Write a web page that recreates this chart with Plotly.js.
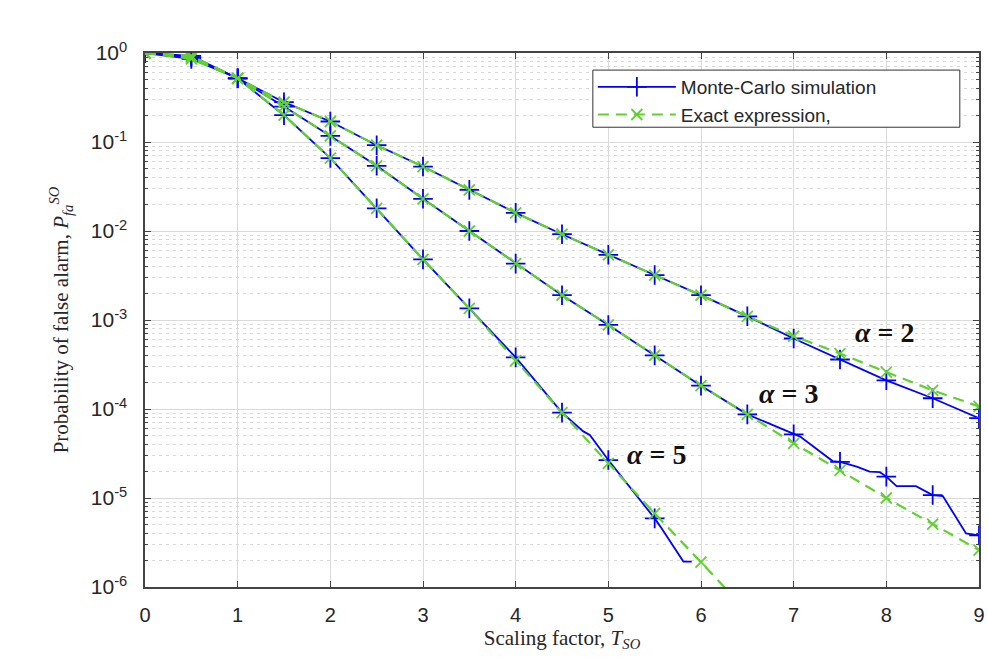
<!DOCTYPE html>
<html>
<head>
<meta charset="utf-8">
<script src="https://cdn.plot.ly/plotly-3.0.1.min.js"></script>
<style>html,body{margin:0;padding:0;background:#fff;}#chart{width:988px;height:665px;}</style>
</head>
<body>
<div id="chart"></div>
<script>
// ---- data ----
const xGrid = [0,0.5,1,1.5,2,2.5,3,3.5,4,4.5,5,5.5,6,6.5,7,7.5,8,8.5,9];

// Exact expression (green dashed), sampled at 0.5 steps
const exact2 = [1,0.93,0.52,0.28,0.17,0.092,0.053,0.029,0.016,0.0092,0.0054,0.0032,0.0019,0.0011,0.00066,0.00042,0.00026,0.000162,0.000107];
const exact3 = [1,0.90,0.52,0.25,0.117,0.054,0.023,0.0100,0.0043,0.0019,0.00088,0.00040,0.000183,0.000087,0.0000412,0.0000204,0.0000100,0.0000051,0.0000026];
const exact5X = [0,0.5,1,1.5,2,2.5,3,3.5,4,4.5,5,5.5,6,6.5];
const exact5 = [1,0.86,0.52,0.20,0.066,0.018,0.0048,0.00135,0.00035,0.000091,0.0000245,0.0000067,0.0000019,0.00000053];

// Monte-Carlo simulation (blue solid); markers sit on the 0.5 steps
const mc2X = [0,0.5,1,1.5,2,2.5,3,3.5,4,4.5,5,5.5,6,6.5,7,7.5,8,8.5,9];
const mc2 = [1,0.93,0.52,0.28,0.17,0.092,0.053,0.029,0.016,0.0092,0.0054,0.0032,0.0019,0.0011,0.00062,0.00036,0.00021,0.000132,0.000079];
const mc3X = [0,0.5,1,1.5,2,2.5,3,3.5,4,4.5,5,5.5,6,6.5,7,7.07,7.42,7.5,7.68,7.82,7.93,8,8.11,8.32,8.5,8.61,8.86,9];
const mc3 = [1,0.90,0.52,0.25,0.117,0.054,0.023,0.0100,0.0043,0.0019,0.00088,0.00040,0.000183,0.000087,0.000052,0.000049,0.000026,0.0000255,0.0000225,0.0000198,0.0000195,0.0000174,0.0000136,0.0000136,0.0000108,0.0000105,0.0000040,0.0000038];
const mc5X = [0,0.5,1,1.5,2,2.5,3,3.5,4,4.5,4.73,4.8,5,5.5,5.56,5.81,5.9];
const mc5 = [1,0.86,0.52,0.20,0.066,0.018,0.0048,0.00135,0.00038,0.000091,0.000056,0.000051,0.0000267,0.0000059,0.0000048,0.00000193,0.00000193];

const yTickVals = [1,0.1,0.01,0.001,0.0001,0.00001,0.000001];
const yTickText = ['10<sup>0</sup>','10<sup>-1</sup>','10<sup>-2</sup>','10<sup>-3</sup>','10<sup>-4</sup>','10<sup>-5</sup>','10<sup>-6</sup>'];
const xTickVals = [0,1,2,3,4,5,6,7,8,9];

const seriesNames = ['Monte-Carlo simulation','Exact expression,'];
const labelText = ['<b><i>α</i> = 2</b>','<b><i>α</i> = 3</b>','<b><i>α</i> = 5</b>'];
const labelX = [7.98, 6.94, 5.52];
const labelY = [0.00073, 0.00015, 0.000031];

// ---- styles ----
const BLUE = '#0000ff';
const GREEN = '#5fd22e';

function onGrid(xs, ys) {
  const ox = [], oy = [];
  xs.forEach((x, i) => { if (Math.abs(x * 2 - Math.round(x * 2)) < 1e-9) { ox.push(x); oy.push(ys[i]); } });
  return [ox, oy];
}

const traces = [];
[[mc2X, mc2], [mc3X, mc3], [mc5X, mc5]].forEach(([xs, ys]) => {
  traces.push({x: xs, y: ys, type: 'scatter', mode: 'lines', showlegend: false, hoverinfo: 'skip',
    line: {color: BLUE, width: 1.8}});
  const [mx, my] = onGrid(xs, ys);
  traces.push({x: mx, y: my, type: 'scatter', mode: 'markers', showlegend: false, hoverinfo: 'skip',
    marker: {symbol: 'cross-thin-open', size: 14, color: BLUE, line: {color: BLUE, width: 1.8}}});
});
[[xGrid, exact2], [xGrid, exact3], [exact5X, exact5]].forEach(([xs, ys]) => {
  traces.push({x: xs, y: ys, type: 'scatter', mode: 'lines+markers', showlegend: false, hoverinfo: 'skip',
    line: {color: GREEN, width: 2.2, dash: '11px,7px'},
    marker: {symbol: 'x-thin-open', size: 11, color: GREEN, line: {color: GREEN, width: 1.8}}});
});
// legend entries
traces.push({x: [null], y: [null], type: 'scatter', mode: 'lines+markers', name: seriesNames[0],
  line: {color: BLUE, width: 1.8},
  marker: {symbol: 'cross-thin-open', size: 14, color: BLUE, line: {color: BLUE, width: 1.8}}});
traces.push({x: [null], y: [null], type: 'scatter', mode: 'lines+markers', name: seriesNames[1],
  line: {color: GREEN, width: 2.2, dash: '11px,7px'},
  marker: {symbol: 'x-thin-open', size: 11, color: GREEN, line: {color: GREEN, width: 1.8}}});

const AX = '#444444';
const TXT = '#262626';

const layout = {
  width: 988, height: 665,
  paper_bgcolor: '#ffffff', plot_bgcolor: '#ffffff',
  margin: {l: 145, r: 9, t: 53, b: 78},
  showlegend: true,
  legend: {
    x: 0.537, y: 0.972, xanchor: 'left', yanchor: 'top',
    bgcolor: 'rgba(0,0,0,0)', borderwidth: 0,
    font: {family: 'Liberation Sans, Arial, sans-serif', size: 19, color: TXT},
    itemwidth: 78, tracegroupgap: 0
  },
  shapes: [
    {type: 'rect', xref: 'paper', yref: 'paper', layer: 'above',
     x0: 0.537, x1: 0.977, y0: 0.861, y1: 0.968,
     fillcolor: '#ffffff', line: {color: '#333333', width: 1}}
  ],
  xaxis: {
    range: [0, 9], tickvals: xTickVals, ticks: 'inside', ticklen: 6, tickcolor: AX,
    showline: true, linecolor: AX, linewidth: 1.6, mirror: 'ticks',
    showgrid: true, gridcolor: '#dadada', gridwidth: 1, zeroline: false,
    tickfont: {family: 'Liberation Sans, Arial, sans-serif', size: 20, color: TXT},
    ticklabelstandoff: 9,
    title: {text: 'Scaling factor, <i>T</i><sub><i>SO</i></sub>', standoff: 0,
      font: {family: 'Liberation Serif, Times New Roman, serif', size: 21, color: TXT}}
  },
  yaxis: {
    type: 'log', range: [-6, 0], tickvals: yTickVals, ticktext: yTickText,
    ticks: 'inside', ticklen: 6, tickcolor: AX,
    showline: true, linecolor: AX, linewidth: 1.6, mirror: 'ticks',
    showgrid: true, gridcolor: '#dadada', gridwidth: 1, zeroline: false,
    tickfont: {family: 'Liberation Sans, Arial, sans-serif', size: 21, color: TXT},
    ticklabelstandoff: 12,
    minor: {dtick: 'D1', ticks: 'inside', ticklen: 3, tickcolor: AX, showgrid: true,
      griddash: '3px,4px', gridcolor: '#d9d9d9', gridwidth: 1},
    title: {text: 'Probability of false alarm, <i>P</i><sub><i>fa</i></sub><sup><i>SO</i></sup>', standoff: 16,
      font: {family: 'Liberation Serif, Times New Roman, serif', size: 21, color: TXT}}
  },
  annotations: labelText.map((t, i) => ({
    x: labelX[i], y: Math.log10(labelY[i]), xref: 'x', yref: 'y', text: t, showarrow: false,
    font: {family: 'Liberation Serif, Times New Roman, serif', size: 28, color: '#111111'}
  }))
};

Plotly.newPlot('chart', traces, layout, {displayModeBar: false, staticPlot: true});
</script>
</body>
</html>
